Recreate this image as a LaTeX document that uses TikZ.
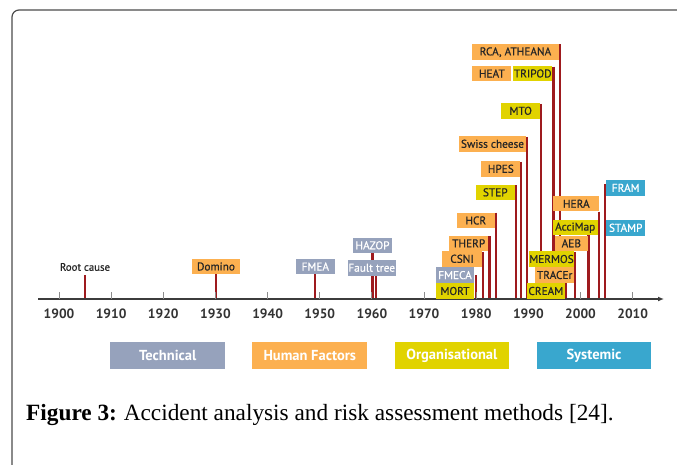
\documentclass[tikz,border=0pt]{standalone}
\usepackage{fontspec}
\setmainfont{Liberation Serif}
\setsansfont{PT Sans}
\newfontfamily\boxfont{PT Sans}[FakeBold=0.6]
\usetikzlibrary{positioning,arrows.meta,backgrounds}

\definecolor{techgrey}{RGB}{150,162,188}
\definecolor{humanorange}{RGB}{252,176,80}
\definecolor{orgyellow}{RGB}{225,211,0}
\definecolor{sysblue}{RGB}{57,167,206}
\definecolor{barred}{RGB}{158,26,30}
\definecolor{axisgrey}{RGB}{60,60,60}

% red marker from a method box down to the time axis
\newcommand\drop[2][0,0]{%
  \begin{scope}[on background layer]
    \draw[bar] (#2) ++(#1) coordinate (t) -- (t |- axl);
  \end{scope}}

\begin{document}
\begin{tikzpicture}[
        x=1pt, y=-1pt,
        method/.style={align=center, inner sep=0pt, minimum width=39.3, minimum height=15.5, font=\boxfont\fontsize{11.3}{12}\selectfont},
        tech/.style={method, fill=techgrey, text=white},
        human/.style={method, fill=humanorange, text=black!85},
        organ/.style={method, fill=orgyellow, text=black!85},
        syst/.style={method, fill=sysblue, text=white},
        legend/.style={minimum width=114.7, minimum height=26.4, inner sep=0pt, text=white, font=\sffamily\bfseries\fontsize{14.5}{15}\selectfont},
        bar/.style={draw=barred, line width=2.3},
        yeartick/.style={draw=black!45, line width=0.9},
        year/.style={font=\sffamily\bfseries\fontsize{13.5}{14}\selectfont, text=black!80}
      ]
      \useasboundingbox (0,0) rectangle (677,465);
      \draw[draw=black!70, line width=1.2, rounded corners=7] (12,465) -- (12,10) -- (677,10);

      % time axis
      \coordinate (axl) at (38,299);
      \coordinate (axr) at (664,299);
      \draw[draw=axisgrey, line width=1.2, -{Latex[length=6,width=5]}] (axl) -- (axr);
      \foreach \y [evaluate=\y as \x using 59+5.215*(\y-1900)] in {1900,1910,...,2010} {
        \draw[yeartick] (\x,292) -- (\x,299);
        \node[year] (y\y) at (\x,313.5) {\y};
      }

      % early methods
      \node (root) [font=\boxfont\fontsize{10.8}{11}\selectfont, text=black!85, inner sep=1pt] at (85,267) {Root cause};
      \node (dom) [human, minimum width=48] at (216,266.5) {Domino};
      \node (fmea) [tech] at (315.3,266.5) {FMEA};
      \node (hazop) [tech] at (372.5,245.3) {HAZOP};
      \node (ftree) [tech, minimum width=48] at (371.7,267.8) {Fault tree};

      % 1970s - 1990s
      \node (mort) [organ, minimum width=38.6] at (455,291) {MORT};
      \node (fmeca) [tech, minimum width=38.6, above=0pt of mort] {FMECA};
      \node (csni) [human] at (462,258.8) {CSNI};
      \node (therp) [human] at (468.7,243.3) {THERP};
      \node (hcr) [human, minimum width=38.3] at (475.8,220.5) {HCR};
      \node (step) [organ] at (495.3,192.3) {STEP};
      \node (hpes) [human] at (500.8,168.8) {HPES};
      \node (swiss) [human, minimum width=67] at (492.5,143.8) {Swiss cheese};
      \node (mto) [organ] at (520.7,110.8) {MTO};
      \node (heat) [human, minimum width=39] at (491.8,73.5) {HEAT};
      \node (tripod) [organ, right=1.4pt of heat] {TRIPOD};
      \node (rca) [human, minimum width=86.4] at (515.5,52.2) {RCA, ATHEANA};
      \node (cream) [organ, minimum width=38.3] at (545.8,291) {CREAM};
      \node (tracer) [human, minimum width=38.7] at (554.7,275) {TRACEr};
      \node (mermos) [organ, minimum width=45] at (551.5,259) {MERMOS};

      % 2000s
      \node (aeb) [human, minimum width=32.7] at (571.3,243.3) {AEB};
      \node (accimap) [organ, minimum width=45] at (575.2,227.7) {AcciMap};
      \node (hera) [human, minimum width=46] at (576.3,203.7) {HERA};
      \node (fram) [syst] at (625.7,187.8) {FRAM};
      \node (stamp) [syst] at (625.7,227.8) {STAMP};

      \drop[0,3]{root.south}
      \drop{dom.south}
      \drop{fmea.south}
      \drop{hazop.south}
      \drop[4.3,0]{ftree.south}
      \drop[1.4,0]{fmeca.east}
      \drop[1,1]{csni.north east}
      \drop[1,1]{therp.north east}
      \drop[1,0]{hcr.north east}
      \drop[1,1]{step.north east}
      \drop[0.6,1]{hpes.north east}
      \drop[0.7,1]{swiss.north east}
      \drop[0.7,1]{mto.north east}
      \drop[1,1]{tripod.north east}
      \drop[1,0]{rca.north east}
      \drop[1,0]{cream.north east}
      \drop[1,1]{mermos.north east}
      \drop[0.6,0]{aeb.north east}
      \drop[-0.8,0]{hera.south east}
      \drop[-1.2,4]{fram.north west}

      % legend
      \node (ltech) [legend, fill=techgrey] at (167.7,355.5) {Technical};
      \node (lhuman) [legend, fill=humanorange, right=27pt of ltech] {Human Factors};
      \node (lorgan) [legend, fill=orgyellow, right=27pt of lhuman] {Organisational};
      \node (lsyst) [legend, fill=sysblue, right=27pt of lorgan] {Systemic};

      \node (cap) [anchor=base west, inner sep=0pt, font=\fontsize{23.3}{24}\selectfont] at (26,420) {\textbf{Figure 3:}\kern-1pt{} Accident analysis and risk assessment methods [24].};

    \end{tikzpicture}
\end{document}
